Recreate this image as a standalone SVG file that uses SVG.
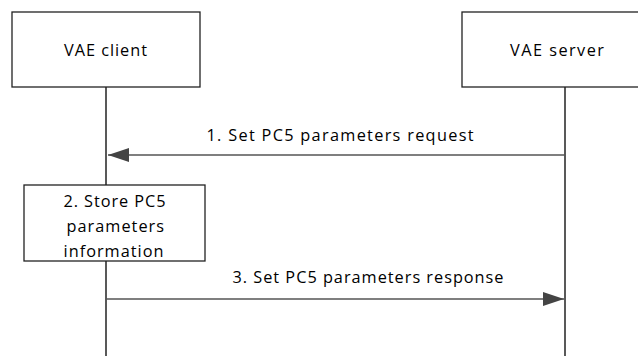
<svg xmlns="http://www.w3.org/2000/svg" width="638" height="356" viewBox="0 0 638 356">
<style>
.box{fill:#fff;stroke:#222;stroke-width:1.3}
.life{stroke:#222;stroke-width:1.5;fill:none}
.msg{stroke:#555;stroke-width:1.5;fill:none}
.t{font-family:"Open Sans","Liberation Sans",sans-serif;font-size:16.3px;fill:#000}
</style>
<defs>
<marker id="ah" markerWidth="22" markerHeight="14" refX="21" refY="7" orient="auto" markerUnits="userSpaceOnUse">
<path d="M0,0 L21,7 L0,14 Z" fill="#444"/>
</marker>
</defs>
<g id="lifelines">
<line class="life" x1="106" y1="87" x2="106" y2="356"/>
<line class="life" x1="565" y1="87" x2="565" y2="356"/>
</g>
<g id="vae-client">
<rect class="box" x="12" y="12" width="188" height="75"/>
<text class="t" x="64" y="56" textLength="83" lengthAdjust="spacing">VAE client</text>
</g>
<g id="vae-server">
<rect class="box" x="462" y="12" width="178" height="75"/>
<text class="t" x="510" y="56" textLength="94" lengthAdjust="spacing">VAE server</text>
</g>
<g id="store">
<rect class="box" x="24" y="185" width="181" height="76"/>
<text class="t" x="63.5" y="206.5" textLength="102" lengthAdjust="spacing">2. Store PC5</text>
<text class="t" x="66.5" y="231.5" textLength="97.5" lengthAdjust="spacing">parameters</text>
<text class="t" x="63.5" y="256.5" textLength="100" lengthAdjust="spacing">information</text>
</g>
<g id="connectors">
<line class="msg" x1="565" y1="155" x2="108" y2="155" marker-end="url(#ah)"/>
<text class="t" x="206.5" y="140.5" textLength="267" lengthAdjust="spacing">1. Set PC5 parameters request</text>
<line class="msg" x1="106" y1="299" x2="564" y2="299" marker-end="url(#ah)"/>
<text class="t" x="232.5" y="283" textLength="271" lengthAdjust="spacing">3. Set PC5 parameters response</text>
</g>
</svg>
